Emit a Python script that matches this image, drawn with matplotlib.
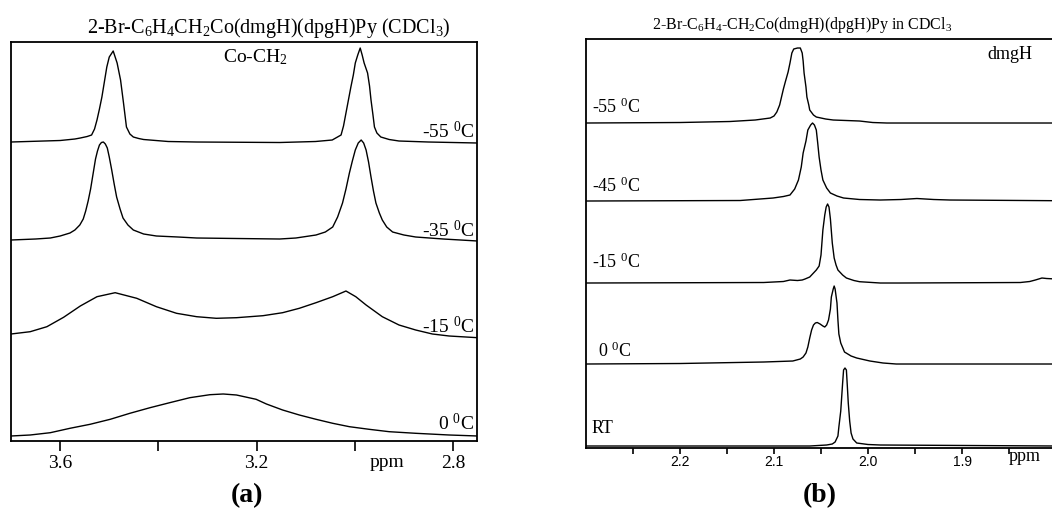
import matplotlib
matplotlib.use('Agg')
import matplotlib.pyplot as plt

plt.rcParams['font.family'] = ['Liberation Serif', 'DejaVu Serif']
plt.rcParams['mathtext.fontset'] = 'custom'
plt.rcParams['mathtext.rm'] = 'Liberation Serif'
plt.rcParams['mathtext.it'] = 'Liberation Serif:italic'
plt.rcParams['mathtext.bf'] = 'Liberation Serif:bold'

# ---- panel (a): Co-CH2 region, intensities ----
a_m55_ppm = [3.70, 3.60, 3.57, 3.559, 3.545, 3.536, 3.530, 3.525, 3.520, 3.515, 3.510,
             3.505, 3.500, 3.492, 3.484, 3.477, 3.471, 3.465, 3.458, 3.451, 3.44, 3.43,
             3.38, 3.322, 3.153, 3.08, 3.046, 3.028, 3.023, 3.018, 3.013, 3.008, 3.003,
             2.999, 2.994, 2.989, 2.985, 2.981, 2.974, 2.970, 2.967, 2.963, 2.960, 2.955,
             2.947, 2.930, 2.910, 2.85, 2.75]
a_m55_int = [1, 2.5, 4, 5, 6.5, 8, 14, 23, 34, 46, 61,
             76, 86, 92, 80, 63, 40, 16, 9, 6, 4.5, 3.5,
             1.5, 1, 0.5, 1.5, 3, 8, 17, 30, 43, 56, 68,
             80, 88, 95, 88, 80, 70, 57, 43, 28, 16, 10,
             6, 3.5, 2, 1, 0]

a_m35_ppm = [3.70, 3.65, 3.62, 3.60, 3.58, 3.57, 3.56, 3.553, 3.548, 3.543, 3.538,
             3.533, 3.528, 3.524, 3.52, 3.516, 3.512, 3.508, 3.504, 3.50, 3.495, 3.49,
             3.485, 3.478, 3.472, 3.462, 3.451, 3.43, 3.404, 3.36, 3.322, 3.24, 3.153,
             3.12, 3.079, 3.06, 3.045, 3.035, 3.025, 3.018, 3.011, 3.005, 2.999, 2.993,
             2.987, 2.982, 2.977, 2.972, 2.967, 2.962, 2.957, 2.950, 2.944, 2.935, 2.923,
             2.90, 2.876, 2.82, 2.75]
a_m35_int = [1, 2, 3, 5, 8, 11, 16, 22, 30, 40, 52,
             67, 82, 90, 96, 98.5, 99, 97, 93, 84, 71, 57,
             44, 32, 23, 16, 11, 7, 5, 4, 3, 2.5, 2,
             3, 6, 9, 14, 24, 38, 52, 68, 80, 91, 98,
             101, 98, 91, 79, 64, 50, 38, 28, 21, 14, 9,
             6, 4, 2, 0]

a_m15_ppm = [3.70, 3.661, 3.627, 3.593, 3.559, 3.525, 3.488, 3.444, 3.404, 3.363, 3.322,
             3.282, 3.241, 3.187, 3.147, 3.113, 3.079, 3.045, 3.018, 2.998, 2.977, 2.944,
             2.910, 2.876, 2.842, 2.808, 2.75]
a_m15_int = [4, 6.3, 11.3, 20.7, 32, 41.3, 45.3, 39.7, 31.3, 24.7, 21.3,
             19.7, 20.3, 22.3, 25.3, 29.7, 35.3, 41.3, 47, 41.3, 33, 21.3,
             13, 8, 4, 2, 0.3]

a_0_ppm = [3.70, 3.661, 3.620, 3.580, 3.539, 3.498, 3.458, 3.417, 3.377, 3.336, 3.295,
           3.268, 3.241, 3.201, 3.180, 3.147, 3.113, 3.079, 3.045, 3.011, 2.971, 2.930,
           2.876, 2.808, 2.75]
a_0_int = [1, 2, 4.3, 8.7, 12.7, 17.7, 23.7, 29.3, 34.3, 39.3, 42.3,
           43, 42, 37.7, 33, 27, 22, 17.7, 13.7, 10.3, 7.7, 5.3,
           3.7, 2, 1]

a_labels = ['-55 $^0$C', '-35 $^0$C', '-15 $^0$C', '0 $^0$C']

# ---- panel (b): dmgH region ----
b_m55_ppm = [2.30, 2.20, 2.147, 2.12, 2.104, 2.10, 2.097, 2.094, 2.092, 2.090, 2.088,
             2.085, 2.083, 2.081, 2.079, 2.075, 2.072, 2.070, 2.069, 2.068, 2.066, 2.065,
             2.063, 2.062, 2.058, 2.055, 2.045, 2.037, 2.009, 1.995, 1.98, 1.80]
b_m55_int = [0, 0.5, 1.5, 3, 5, 7, 11, 18, 26, 34, 41,
             51, 60, 70, 74, 75, 75, 70, 62, 50, 36, 26,
             18, 13, 8, 6, 4, 3, 2, 0.5, 0, 0]

b_m45_ppm = [2.30, 2.136, 2.101, 2.09, 2.083, 2.078, 2.074, 2.071, 2.069, 2.066, 2.064,
             2.061, 2.059, 2.057, 2.055, 2.0535, 2.052, 2.050, 2.048, 2.044, 2.040, 2.033,
             2.026, 2.009, 1.987, 1.965, 1.948, 1.93, 1.913, 1.80]
b_m45_int = [0, 0.5, 3, 4.5, 6, 12, 21, 34, 48, 60, 71,
             76, 78, 76, 71, 58, 44, 31, 21, 13, 8, 5,
             3, 1.5, 1, 1.5, 2.5, 1.5, 1, 0.3]

b_m15_ppm = [2.30, 2.111, 2.09, 2.083, 2.075, 2.070, 2.067, 2.062, 2.058, 2.055, 2.052,
             2.050, 2.048, 2.046, 2.0445, 2.043, 2.0415, 2.040, 2.038, 2.036, 2.034, 2.032,
             2.027, 2.023, 2.015, 2.009, 1.987, 1.966, 1.838, 1.828, 1.822, 1.815, 1.81,
             1.80]
b_m15_int = [0, 0.5, 1.5, 3, 2.5, 3, 4, 6, 10, 13, 17,
             28, 53, 68, 76, 79, 76, 64, 40, 25, 18, 13,
             8, 5, 2.5, 1.3, 0, 0, 0.5, 1.5, 3, 5, 4.5,
             4]

b_0_ppm = [2.30, 2.20, 2.111, 2.080, 2.072, 2.069, 2.066, 2.064, 2.062, 2.060, 2.058,
           2.056, 2.054, 2.051, 2.048, 2.046, 2.044, 2.042, 2.040, 2.039, 2.037, 2.036,
           2.035, 2.033, 2.032, 2.031, 2.029, 2.025, 2.018, 2.012, 1.998, 1.984, 1.97,
           1.80]
b_0_int = [0, 0.5, 2, 3, 5, 7, 11, 17, 26, 34, 39,
           41, 41.5, 40, 38, 37, 39, 44, 55, 67, 75, 78,
           75, 61, 44, 30, 21, 12, 8, 6, 3, 1, 0,
           0]

b_rt_ppm = [2.30, 2.062, 2.044, 2.038, 2.035, 2.032, 2.031, 2.029, 2.028, 2.027, 2.026,
            2.0245, 2.023, 2.022, 2.021, 2.0195, 2.018, 2.016, 2.012, 2.00, 1.987, 1.80]
b_rt_int = [0, 0, 1, 2, 4, 10, 19, 35, 49, 63, 76,
            78, 76, 60, 43, 25, 13, 7, 3, 1.5, 1, 0]

b_labels = ['-55 $^0$C', '-45 $^0$C', '-15 $^0$C', '0 $^0$C', 'RT']

fig = plt.figure(figsize=(10.52, 5.08), dpi=100)

# panel a
ax1 = fig.add_axes([0.0105, 0.1319, 0.4430, 0.7854])
offs_a = [298, 200, 103, 4]
traces_a = [(a_m55_ppm, a_m55_int), (a_m35_ppm, a_m35_int),
            (a_m15_ppm, a_m15_int), (a_0_ppm, a_0_int)]
for (x, y), off in zip(traces_a, offs_a):
    ax1.plot(x, [v + off for v in y], color='black', lw=1.0)
lab_dy = [4.5, 4.3, 4.7, 7]
for lab, off, dy in zip(a_labels, offs_a, lab_dy):
    ax1.text(2.757, off + dy, lab, ha='right', va='baseline', fontsize=14)
ax1.text(3.269, 379, 'Co-CH$_2$', ha='left', va='baseline', fontsize=14)
ax1.set_xlim(3.70, 2.751)
ax1.set_ylim(0, 399)
ax1.set_yticks([])
ax1.set_xticks([3.6, 3.4, 3.2, 3.0, 2.8])
ax1.set_xticklabels(['3.6', '', '3.2', '', '2.8'], fontsize=14)
ax1.tick_params(axis='x', direction='out', length=7, width=1.2, pad=3)
for s in ax1.spines.values():
    s.set_linewidth(1.3)

# panel b
ax2 = fig.add_axes([0.557, 0.1181, 0.4430, 0.8051])
offs_b = [325, 247, 165, 84, 2]
traces_b = [(b_m55_ppm, b_m55_int), (b_m45_ppm, b_m45_int), (b_m15_ppm, b_m15_int),
            (b_0_ppm, b_0_int), (b_rt_ppm, b_rt_int)]
for (x, y), off in zip(traces_b, offs_b):
    ax2.plot(x, [v + off for v in y], color='black', lw=1.0)
lab_x = [2.2936, 2.2936, 2.2936, 2.2872, 2.2936]
lab_dy = [9.7, 9.3, 15, 7, 13]
for lab, off, lx, dy in zip(b_labels, offs_b, lab_x, lab_dy):
    ax2.text(lx, off + dy, lab, ha='left', va='baseline', fontsize=13)
ax2.text(1.8734, 389, 'dmgH', ha='left', va='baseline', fontsize=13)
ax2.set_xlim(2.30, 1.8043)
ax2.set_ylim(0, 409)
ax2.set_yticks([])
ax2.set_xticks([2.25, 2.2, 2.15, 2.1, 2.05, 2.0, 1.95, 1.9, 1.85])
ax2.set_xticklabels(['', '2.2', '', '2.1', '', '2.0', '', '1.9', ''],
                    fontsize=10, family='Liberation Sans')
ax2.tick_params(axis='x', direction='out', length=4.5, width=1.2, pad=0.5)
ax2.spines['right'].set_visible(False)
for s in ['left', 'top', 'bottom']:
    ax2.spines[s].set_linewidth(1.3)

# titles and captions
fig.text(0.2557, 0.935, '2-Br-C$_6$H$_4$CH$_2$Co(dmgH)(dpgH)Py (CDCl$_3$)',
         ha='center', va='baseline', fontsize=14.5)
fig.text(0.7624, 0.943, '2-Br-C$_6$H$_4$-CH$_2$Co(dmgH)(dpgH)Py in CDCl$_3$',
         ha='center', va='baseline', fontsize=11.5)
fig.text(0.3679, 0.0814, 'ppm', ha='center', va='baseline', fontsize=14)
fig.text(0.9743, 0.0932, 'ppm', ha='center', va='baseline', fontsize=13)
fig.text(0.2348, 0.012, '(a)', ha='center', va='baseline', fontsize=20, fontweight='bold')
fig.text(0.7795, 0.012, '(b)', ha='center', va='baseline', fontsize=20, fontweight='bold')

fig.savefig('out.png', dpi=100)
